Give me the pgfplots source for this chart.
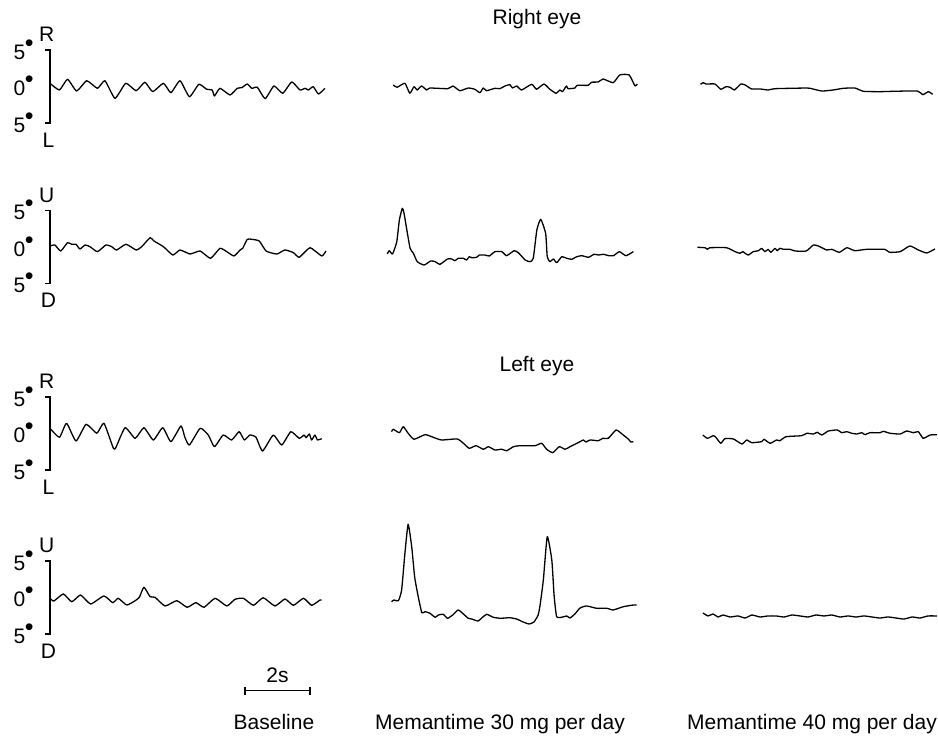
\documentclass[border=0pt]{standalone}
\usepackage{fontspec}
\setmainfont{Liberation Sans}
\usepackage{pgfplots}
\pgfplotsset{compat=1.18}
\pgfplotsset{
  panel/.style={x=32.5pt,y=7.3pt,xmin=0,xmax=8.5,ymin=-5,ymax=5,hide axis,clip=false,anchor=south west},
  trace/.style={black,line width=1.3pt,smooth,tension=0.3,mark=none,line join=round},
}
\newcommand{\lab}[1]{#1\kern-0.5pt\raisebox{8pt}{\fontsize{25}{25}\selectfont •}}
\newcommand{\bracket}[2]{%
  \draw[line width=1.3pt] (axis cs:-0.15,5) -- (axis cs:0,5) -- (axis cs:0,-5) -- (axis cs:-0.15,-5);
  \node[anchor=base east,yshift=-9.5pt,inner xsep=0pt] at (axis cs:-0.5,5) {\lab{5}};
  \node[anchor=base east,yshift=-9.5pt,inner xsep=0pt] at (axis cs:-0.5,0) {\lab{0}};
  \node[anchor=base east,yshift=-9.5pt,inner xsep=0pt] at (axis cs:-0.5,-5) {\lab{5}};
  \node at (axis cs:-0.1,7.1) {#1};
  \node at (axis cs:-0.05,-7.3) {#2};
}
\begin{document}
\fontsize{21}{25}\selectfont
\begin{tikzpicture}
\useasboundingbox (0,0) rectangle (938pt,741pt);
% ---------------- Row 1: right eye, horizontal ----------------
\begin{axis}[panel,at={(50pt,618pt)}]
\addplot[trace] coordinates {(0,0.44) (0.29,-0.48) (0.54,0.99) (0.82,-0.62) (1.13,0.79) (1.46,-0.25) (1.69,0.79) (2.00,-1.62) (2.33,0.44) (2.65,-0.58) (2.92,0.58) (3.16,-0.71) (3.49,0.44) (3.72,-0.85) (4.00,0.79) (4.29,-1.40) (4.58,0.30) (4.82,-0.38) (4.99,-0.48) (5.06,-1.30) (5.23,-0.25) (5.54,-1.16) (5.76,-0.25) (5.90,-0.16) (6.07,0.34) (6.21,-0.25) (6.38,-0.11) (6.62,-1.67) (6.89,0.07) (7.16,-0.93) (7.44,0.62) (7.69,-0.48) (7.85,-0.25) (7.95,-0.48) (8.10,-0.03) (8.26,-1.03) (8.46,-0.25)};
\bracket{R}{L}
\end{axis}
\begin{axis}[panel,at={(388pt,618pt)}]
\addplot[trace] coordinates {(0.16,0.21) (0.28,-0.11) (0.52,0.44) (0.67,-0.93) (0.80,-0.03) (0.90,-0.48) (1.03,0.07) (1.19,-0.48) (1.29,-0.21) (1.84,-0.30) (2.00,0.07) (2.21,-0.58) (2.47,-0.21) (2.67,-0.38) (2.83,-0.85) (2.93,-0.21) (3.03,-0.58) (3.29,-0.25) (3.44,-0.30) (3.60,0.07) (3.75,0.25) (3.83,-0.21) (3.96,0.07) (4.11,-0.48) (4.42,0.30) (4.57,-0.38) (4.80,0.34) (4.98,-0.38) (5.17,-0.93) (5.29,-0.48) (5.37,-0.71) (5.49,0.07) (5.54,-0.30) (5.75,-0.21) (5.82,0.16) (6.16,0.16) (6.26,0.58) (6.47,0.62) (6.62,1.03) (6.93,0.52) (7.13,1.58) (7.42,1.58) (7.60,0.07) (7.67,0.34)};
\end{axis}
\begin{axis}[panel,at={(697pt,618pt)}]
\addplot[trace] coordinates {(0.11,0.30) (0.19,0.52) (0.28,0.34) (0.55,0.34) (0.73,-0.38) (0.89,-0.03) (1.02,-0.11) (1.15,-0.48) (1.35,0.34) (1.48,0.21) (1.68,-0.34) (1.94,-0.34) (2.19,-0.48) (2.40,-0.30) (3.38,-0.21) (3.53,-0.30) (3.84,-0.62) (4.19,-0.48) (4.50,-0.25) (4.86,-0.21) (5.12,-0.66) (5.63,-0.71) (6.04,-0.66) (6.78,-0.62) (6.95,-1.12) (7.12,-0.71) (7.25,-1.07)};
\end{axis}
% ---------------- Row 2: right eye, vertical ----------------
\begin{axis}[panel,at={(50pt,457.5pt)}]
\addplot[trace] coordinates {(0,0.14) (0.15,0.27) (0.33,-0.55) (0.54,0.59) (0.67,0.37) (0.80,0.37) (0.92,-0.27) (1.08,0.27) (1.23,0.04) (1.46,-0.64) (1.72,0.27) (1.90,0.04) (2.05,-0.41) (2.34,0.37) (2.65,-0.41) (2.82,0.04) (3.08,1.27) (3.20,0.82) (3.49,0.04) (3.78,-1.10) (4.00,-0.41) (4.31,-0.96) (4.62,-0.55) (4.94,-1.55) (5.23,-0.18) (5.44,-0.64) (5.66,-1.23) (5.85,-0.41) (5.93,-0.18) (6.07,1.05) (6.21,1.05) (6.44,0.82) (6.65,-0.55) (6.98,-0.96) (7.23,-0.41) (7.49,-0.78) (7.67,-1.41) (8.00,-0.10) (8.36,-1.23) (8.49,-0.55)};
\bracket{U}{D}
\end{axis}
\begin{axis}[panel,at={(388pt,457.5pt)}]
\addplot[trace] coordinates {(-0.02,-0.96) (0.04,-0.51) (0.14,-0.96) (0.27,0.73) (0.35,3.70) (0.44,5.30) (0.49,4.70) (0.58,2.33) (0.68,-0.18) (0.78,-0.86) (0.90,-2.01) (1.11,-2.47) (1.31,-1.92) (1.45,-2.01) (1.60,-2.37) (1.83,-1.64) (1.96,-1.64) (2.06,-1.88) (2.16,-1.55) (2.32,-1.55) (2.42,-1.78) (2.50,-1.33) (2.58,-1.47) (2.73,-1.41) (2.81,-1.10) (2.98,-1.10) (3.12,-1.23) (3.29,-0.64) (3.50,-0.64) (3.65,-1.19) (3.88,-0.51) (4.01,-0.78) (4.22,-1.78) (4.37,-2.01) (4.47,-1.55) (4.58,2.33) (4.70,3.79) (4.85,1.88) (4.90,-1.33) (4.98,-2.01) (5.09,-1.64) (5.19,-2.15) (5.35,-1.33) (5.50,-1.55) (5.65,-1.68) (5.81,-1.33) (5.96,-1.19) (6.17,-1.41) (6.34,-1.00) (6.48,-1.10) (6.63,-1.00) (6.79,-1.19) (6.94,-1.19) (7.12,-0.64) (7.32,-1.19) (7.55,-0.64)};
\end{axis}
\begin{axis}[panel,at={(697pt,457.5pt)}]
\addplot[trace] coordinates {(0.01,-0.04) (0.25,-0.10) (0.32,-0.32) (0.40,-0.10) (0.91,-0.10) (1.17,-0.64) (1.32,-0.86) (1.41,-0.64) (1.48,-0.86) (1.58,-1.10) (1.73,-0.64) (1.89,-0.51) (1.99,-0.18) (2.09,-0.64) (2.19,-0.32) (2.27,-0.73) (2.40,-0.18) (2.47,-0.51) (2.55,-0.18) (2.66,-0.32) (2.86,-0.32) (3.02,-0.55) (3.36,-0.55) (3.58,0.27) (3.73,0.14) (3.99,-0.41) (4.15,-0.32) (4.38,-0.73) (4.61,-0.10) (4.86,-0.51) (5.22,-0.32) (5.78,-0.32) (5.92,-0.73) (6.25,-0.64) (6.55,0.14) (6.81,-0.41) (7.07,-0.82) (7.32,-0.27)};
\end{axis}
% ---------------- Row 3: left eye, horizontal ----------------
\begin{axis}[panel,at={(50pt,271pt)}]
\addplot[trace] coordinates {(0,0.71) (0.29,-0.52) (0.51,1.40) (0.80,-1.03) (1.11,1.26) (1.44,0.03) (1.66,1.40) (1.95,-2.03) (2.03,-1.89) (2.31,0.79) (2.62,-0.66) (2.89,0.79) (3.18,-0.89) (3.47,0.79) (3.72,-1.12) (4.03,1.03) (4.15,-0.52) (4.29,-1.58) (4.62,0.71) (4.87,-0.21) (5.06,-1.81) (5.33,-0.21) (5.59,-0.89) (5.82,0.25) (5.98,-0.89) (6.15,-0.21) (6.34,-0.52) (6.54,-2.40) (6.87,-0.21) (7.13,-1.58) (7.41,0.25) (7.67,-0.66) (7.82,-0.21) (7.88,-0.58) (7.98,-0.07) (8.05,-0.89) (8.15,-0.21) (8.23,-0.89) (8.36,-0.71)};
\bracket{R}{L}
\end{axis}
\begin{axis}[panel,at={(388pt,271pt)}]
\addplot[trace] coordinates {(0.11,0.25) (0.16,0.58) (0.35,0.11) (0.47,0.93) (0.62,0.03) (0.80,-0.79) (1.14,-0.16) (1.39,-0.52) (1.65,-0.89) (2.13,-0.75) (2.32,-1.34) (2.50,-2.03) (2.71,-1.67) (2.93,-2.16) (3.09,-1.81) (3.29,-2.26) (3.50,-2.16) (3.65,-2.36) (3.86,-1.81) (4.06,-1.67) (4.52,-1.67) (4.73,-1.34) (4.88,-2.16) (5.07,-2.63) (5.27,-1.81) (5.45,-2.16) (5.60,-1.81) (5.75,-1.48) (5.91,-1.12) (6.01,-0.89) (6.09,-1.16) (6.22,-0.89) (6.47,-0.99) (6.61,-0.66) (6.78,-0.66) (7.02,0.48) (7.24,-0.21) (7.40,-0.79) (7.47,-1.16) (7.55,-1.12)};
\end{axis}
\begin{axis}[panel,at={(697pt,271pt)}]
\addplot[trace] coordinates {(0.18,-0.21) (0.32,-0.66) (0.50,-0.30) (0.58,-0.52) (0.73,-1.34) (0.86,-0.71) (1.12,-0.75) (1.38,-1.44) (1.53,-0.89) (1.68,-1.26) (1.99,-1.12) (2.06,-0.79) (2.25,-1.34) (2.45,-0.89) (2.55,-0.99) (2.74,-0.44) (3.22,-0.30) (3.38,0.03) (3.58,-0.07) (3.70,0.16) (3.84,-0.21) (4.04,0.34) (4.32,0.48) (4.45,0.11) (4.61,0.25) (4.76,0.03) (4.92,-0.07) (5.07,0.11) (5.17,-0.16) (5.32,0.11) (5.63,0.11) (5.73,0.30) (5.94,0.03) (6.25,-0.07) (6.45,0.34) (6.66,0.11) (6.81,0.25) (6.96,-0.66) (7.17,-0.21) (7.38,-0.16)};
\end{axis}
% ---------------- Row 4: left eye, vertical ----------------
\begin{axis}[panel,at={(50pt,107pt)}]
\addplot[trace] coordinates {(0,-0.11) (0.12,-0.48) (0.41,0.48) (0.67,-0.58) (0.94,0.34) (1.25,-0.89) (1.66,0.21) (1.93,-0.71) (2.10,-0.11) (2.36,-1.03) (2.62,-0.44) (2.75,0.03) (2.89,1.40) (3.08,0.11) (3.23,0.03) (3.54,-1.16) (3.90,-0.44) (4.22,-1.34) (4.49,-0.71) (4.74,-1.34) (5.08,-0.11) (5.44,-1.16) (5.69,-0.25) (5.95,-0.11) (6.26,-1.07) (6.56,-0.03) (6.92,-1.16) (7.23,-0.21) (7.49,-1.07) (7.80,-0.11) (8.05,-1.07) (8.31,-0.34) (8.36,-0.34)};
\bracket{U}{D}
% 2 s scale bar
\draw[line width=1.3pt] (axis cs:6,-12.77) -- (axis cs:8,-12.77);
\draw[line width=1.3pt] (axis cs:6,-12.2) -- (axis cs:6,-13.35);
\draw[line width=1.3pt] (axis cs:8,-12.2) -- (axis cs:8,-13.35);
\node[anchor=base] at (axis cs:7,-11.71) {2s};
\end{axis}
\begin{axis}[panel,at={(388pt,107pt)}]
\addplot[trace] coordinates {(0.11,-0.58) (0.18,-0.34) (0.32,-0.44) (0.42,1.03) (0.52,6.03) (0.62,10.03) (0.73,6.93) (0.82,2.81) (0.93,0.11) (1.04,-2.08) (1.14,-1.94) (1.29,-2.16) (1.45,-2.71) (1.55,-2.40) (1.70,-2.30) (1.83,-2.85) (1.99,-2.40) (2.16,-1.71) (2.32,-2.26) (2.47,-2.85) (2.58,-2.95) (2.77,-3.22) (2.92,-2.67) (3.04,-2.30) (3.24,-2.71) (3.45,-2.85) (3.60,-2.81) (3.75,-2.77) (3.96,-2.95) (4.16,-3.36) (4.34,-3.63) (4.49,-3.36) (4.62,-2.40) (4.68,-1.03) (4.78,2.40) (4.90,8.33) (5.04,5.14) (5.11,0.34) (5.19,-2.63) (5.38,-2.67) (5.50,-2.53) (5.60,-2.81) (5.75,-2.26) (5.91,-1.44) (6.11,-1.16) (6.42,-1.48) (6.73,-1.48) (6.93,-1.71) (7.24,-1.26) (7.55,-1.03) (7.65,-1.03)};
\end{axis}
\begin{axis}[panel,at={(697pt,107pt)}]
\addplot[trace] coordinates {(0.18,-2.12) (0.34,-2.53) (0.49,-2.26) (0.65,-2.67) (0.80,-2.40) (1.02,-2.67) (1.26,-2.53) (1.48,-2.81) (1.69,-2.40) (1.94,-2.67) (2.18,-2.53) (2.43,-2.53) (2.68,-2.67) (2.92,-2.40) (3.17,-2.53) (3.42,-2.67) (3.66,-2.40) (3.91,-2.53) (4.15,-2.40) (4.40,-2.67) (4.65,-2.53) (4.89,-2.67) (5.14,-2.53) (5.38,-2.67) (5.63,-2.81) (5.88,-2.67) (6.12,-2.81) (6.37,-2.95) (6.62,-2.67) (6.86,-2.81) (7.11,-2.53) (7.38,-2.53)};
\end{axis}
% ---------------- titles ----------------
\node[anchor=base] at (537pt,716pt) {Right eye};
\node[anchor=base] at (537pt,369.5pt) {Left eye};
\node[anchor=base] at (274pt,11.5pt) {Baseline};
\node[anchor=base] at (500pt,11.5pt) {Memantime 30 mg per day};
\node[anchor=base] at (812pt,11.5pt) {Memantime 40 mg per day};
\end{tikzpicture}
\end{document}
